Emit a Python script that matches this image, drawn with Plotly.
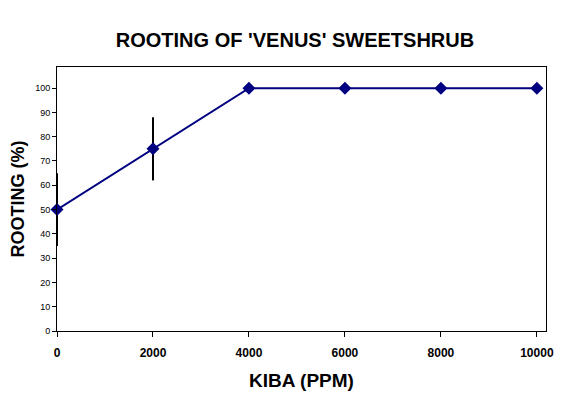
import plotly.graph_objects as go

kiba_ppm = [0, 2000, 4000, 6000, 8000, 10000]
rooting_pct = [50, 75, 100, 100, 100, 100]
rooting_err = [15, 13, 0, 0, 0, 0]
x_ticks = [0, 2000, 4000, 6000, 8000, 10000]
y_ticks = list(range(0, 101, 10))

# page body has an 8px default margin; figure coordinates are offset accordingly
OFF = 8
W, H = 576, 394

fig = go.Figure()
fig.add_trace(go.Scatter(
    x=kiba_ppm, y=rooting_pct,
    mode="lines+markers",
    line=dict(color="#000080", width=2),
    marker=dict(symbol="diamond", size=10, color="#000080"),
    error_y=dict(type="data", array=rooting_err, visible=True,
                 color="black", thickness=2, width=0),
    cliponaxis=False,
))

fig.update_layout(
    width=W, height=H,
    margin=dict(l=57 - OFF, r=W - (546 - OFF), t=67 - OFF, b=H - (331 - OFF)),
    paper_bgcolor="white", plot_bgcolor="white",
    showlegend=False,
    title=dict(text="<b>ROOTING OF 'VENUS' SWEETSHRUB</b>",
               x=(295 - OFF) / W, xanchor="center", y=1 - (40 - OFF) / H, yanchor="middle",
               font=dict(family="Liberation Sans, Arial", size=20, color="black")),
    font=dict(family="Liberation Sans, Arial", color="black"),
)
fig.update_xaxes(
    range=[0, 10190], tickvals=x_ticks, ticktext=[f"<b>{v}</b>" for v in x_ticks],
    ticks="outside", ticklen=5, tickcolor="black", tickwidth=1,
    showline=True, linecolor="black", linewidth=1, mirror=True,
    showgrid=False, zeroline=False, automargin=False,
    ticklabelstandoff=6,
    tickfont=dict(size=12, family="Liberation Sans, Arial"),
    title=dict(text="<b>KIBA (PPM)</b>", font=dict(size=19), standoff=14),
)
fig.update_yaxes(
    range=[0, 108.7], tickvals=y_ticks,
    ticks="outside", ticklen=4, tickcolor="black", tickwidth=1,
    showline=True, linecolor="black", linewidth=1, mirror=True,
    showgrid=False, zeroline=False, automargin=False,
    tickfont=dict(size=9, family="Liberation Sans, Arial"),
    title=dict(text="<b>ROOTING (%)</b>", font=dict(size=18), standoff=12),
)

fig.write_html("out.html")
